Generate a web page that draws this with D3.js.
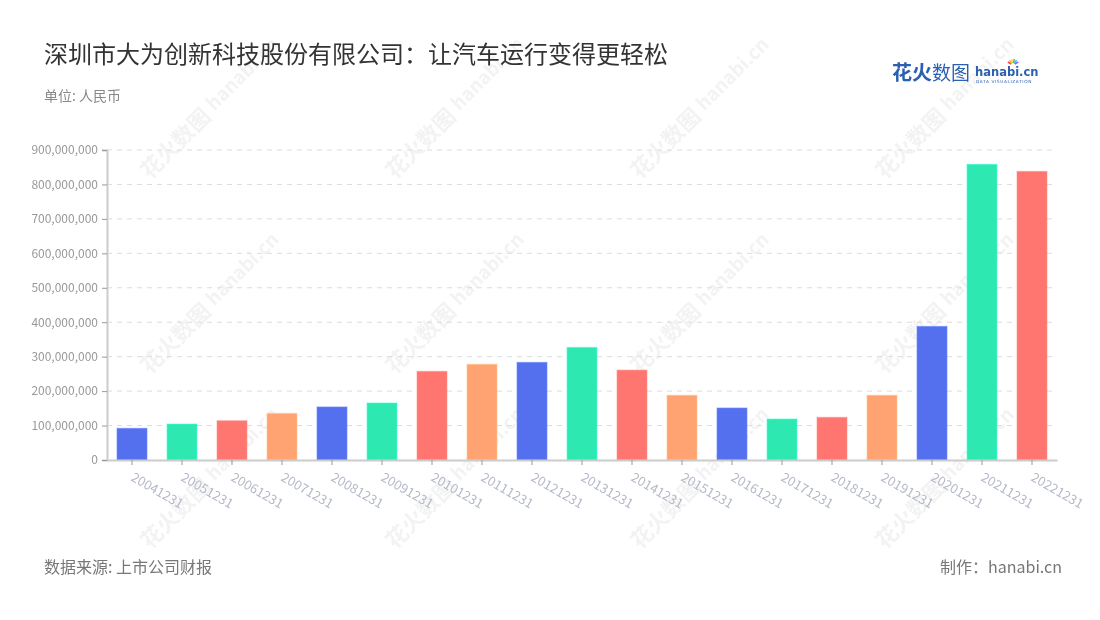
<!DOCTYPE html>
<html><head><meta charset="utf-8">
<script src="https://cdn.jsdelivr.net/npm/d3@7"></script>
<style>body{margin:0;background:#fff;font-family:"Noto Sans CJK SC","Noto Sans",sans-serif;}</style>
</head><body><svg id="c" width="1100" height="620"></svg>
<script>
const categories = ["20041231","20051231","20061231","20071231","20081231","20091231","20101231","20111231","20121231","20131231","20141231","20151231","20161231","20171231","20181231","20191231","20201231","20211231","20221231"];
const values = [92e6,104.5e6,114e6,135.5e6,154e6,165.5e6,257.5e6,278e6,283.5e6,327e6,261e6,188e6,151e6,119e6,124e6,188e6,388e6,858.5e6,838e6];
const yTicks = [0,1e8,2e8,3e8,4e8,5e8,6e8,7e8,8e8,9e8];
const palette = ["#5570ee","#2ee8b2","#ff7670","#ffa372"];
const title = "深圳市大为创新科技股份有限公司：让汽车运行变得更轻松";
const unit = "单位: 人民币";
const source = "数据来源: 上市公司财报";
const maker = "制作：hanabi.cn";

const svg = d3.select("#c");
const font = '"Noto Sans CJK SC","Noto Sans",sans-serif';
const m = {left:107, right:1057, top:150, bottom:460};

// watermark
const wm = svg.append("g").attr("opacity",0.32);
for (const cx of [150,395,640,885]) for (const cy of [180,375,550]) {
  const g = wm.append("g").attr("transform",`translate(${cx},${cy}) rotate(-45)`);
  g.append("text").attr("x",0).attr("y",0).attr("font-family",font).attr("font-weight","bold")
   .attr("font-size",22).attr("fill","#d8d8d8").text("花火数图");
  g.append("text").attr("x",94).attr("y",-3).attr("font-family",font).attr("font-weight","bold")
   .attr("font-size",19).attr("fill","#d8d8d8").text("hanabi.cn");
}

const x = d3.scaleBand().domain(categories).range([m.left,m.right]).paddingInner(0.4).paddingOuter(0.2);
const y = d3.scaleLinear().domain([0,9e8]).range([m.bottom,m.top]);

// grid
svg.append("g").selectAll("line").data(yTicks.slice(1)).join("line")
  .attr("x1",m.left).attr("x2",m.right).attr("y1",d=>y(d)).attr("y2",d=>y(d))
  .attr("stroke","#dcdcdc").attr("stroke-dasharray","5,5");

// y axis
const ya = svg.append("g").attr("transform",`translate(${m.left},0)`)
  .call(d3.axisLeft(y).tickValues(yTicks).tickSize(5).tickPadding(4).tickFormat(d=>d===0?"0":d3.format(",")(d)));
ya.select(".domain").attr("stroke","#ccc").attr("stroke-width",2);
ya.selectAll(".tick line").attr("stroke","#999");
ya.selectAll("text").attr("fill","#999").attr("font-size",12).attr("font-family",font);

// bars
svg.append("g").selectAll("rect").data(values).join("rect")
  .attr("x",(d,i)=>x(categories[i])).attr("width",x.bandwidth())
  .attr("y",d=>y(d)).attr("height",d=>y(0)-y(d))
  .attr("fill",(d,i)=>palette[i%4])
  .attr("stroke",(d,i)=>d3.color(palette[i%4]).brighter(0.6)).attr("stroke-opacity",0.6).attr("stroke-width",1);

// x axis
const xa = svg.append("g").attr("transform",`translate(0,${m.bottom})`)
  .call(d3.axisBottom(x).tickSize(5).tickSizeOuter(0));
xa.select(".domain").attr("stroke","#ccc").attr("stroke-width",2);
xa.selectAll(".tick line").attr("stroke","#999");
xa.selectAll("text").attr("fill","#b4b9c8").attr("font-size",13).attr("font-family",font)
  .attr("text-anchor","start").attr("dy",0).attr("y",0)
  .attr("transform","translate(-2,20) rotate(30)");

// titles
svg.append("text").attr("x",44).attr("y",63).attr("font-family",font).attr("font-size",24).attr("fill","#333").text(title);
svg.append("text").attr("x",44).attr("y",101).attr("font-family",font).attr("font-size",14).attr("fill","#888").text(unit);
svg.append("text").attr("x",44).attr("y",573).attr("font-family",font).attr("font-size",16).attr("fill","#777").text(source);
svg.append("text").attr("x",1062).attr("y",573).attr("text-anchor","end").attr("font-family",font).attr("font-size",16).attr("fill","#777").text(maker);

// logo
const lg = svg.append("g");
lg.append("text").attr("x",892).attr("y",80).attr("font-family",font).attr("font-weight","bold").attr("font-size",20).attr("fill","#2b5fb0").text("花火");
lg.append("text").attr("x",932).attr("y",80).attr("font-family",font).attr("font-size",19).attr("fill","#2b5fb0").text("数图");
lg.append("text").attr("x",975).attr("y",76).attr("font-family","DejaVu Sans").attr("font-weight","bold").attr("font-size",11.5).attr("fill","#2b5fb0").text("hanabi.cn");
lg.append("text").attr("x",976).attr("y",83).attr("font-family","DejaVu Sans").attr("font-size",4.3).attr("fill","#2b5fb0").attr("letter-spacing",0.6).text("DATA VISUALIZATION");
const burst = ["#f44","#fa3","#fd3","#4c4","#3bf","#a5f"];
burst.forEach((c,i)=>{const a=-150+i*24; const r=a*Math.PI/180;
  lg.append("line").attr("x1",1013+Math.cos(r)*2).attr("y1",65+Math.sin(r)*2).attr("x2",1013+Math.cos(r)*6).attr("y2",65+Math.sin(r)*6).attr("stroke",c).attr("stroke-width",1.5);});
</script></body></html>
